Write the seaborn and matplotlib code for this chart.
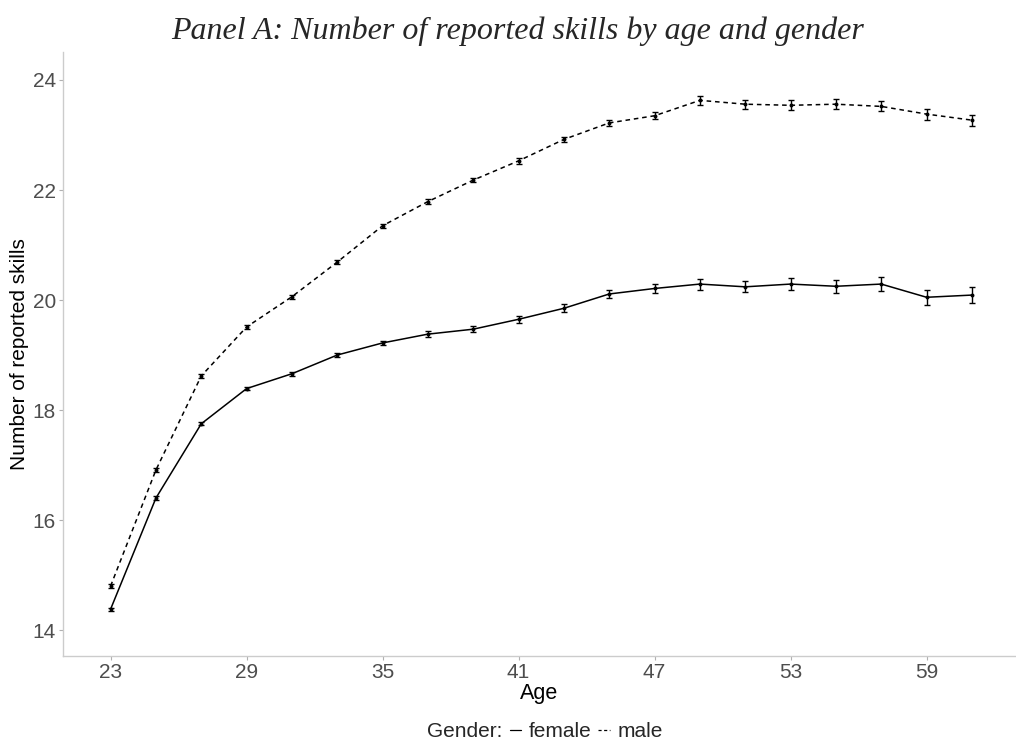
import matplotlib
matplotlib.use("Agg")
import matplotlib.pyplot as plt
from matplotlib.lines import Line2D
import numpy as np
import pandas as pd
import seaborn as sns

# Mean number of reported skills by age (two-year bins) and gender, with standard errors
ages = [23, 25, 27, 29, 31, 33, 35, 37, 39, 41, 43, 45, 47, 49, 51, 53, 55, 57, 59, 61]
female_mean = [14.38, 16.40, 17.75, 18.39, 18.66, 19.00, 19.22, 19.38, 19.47, 19.65,
               19.85, 20.11, 20.21, 20.29, 20.24, 20.29, 20.25, 20.29, 20.05, 20.09]
male_mean = [14.80, 16.91, 18.62, 19.51, 20.06, 20.69, 21.35, 21.79, 22.18, 22.53,
             22.92, 23.22, 23.35, 23.63, 23.56, 23.54, 23.56, 23.52, 23.38, 23.27]
female_se = [0.03, 0.03, 0.03, 0.03, 0.04, 0.04, 0.04, 0.05, 0.05, 0.06,
             0.07, 0.08, 0.09, 0.10, 0.10, 0.11, 0.12, 0.13, 0.14, 0.14]
male_se = [0.03, 0.03, 0.03, 0.03, 0.04, 0.04, 0.04, 0.04, 0.04, 0.05,
           0.05, 0.06, 0.06, 0.08, 0.08, 0.09, 0.09, 0.09, 0.10, 0.10]
x_ticks = [23, 29, 35, 41, 47, 53, 59]
y_ticks = [14, 16, 18, 20, 22, 24]

df = pd.DataFrame({
    "age": ages * 2,
    "skills": female_mean + male_mean,
    "se": female_se + male_se,
    "gender": ["female"] * len(ages) + ["male"] * len(ages),
})

sns.set_theme(style="white")
plt.rcParams["font.family"] = ["Liberation Sans", "DejaVu Sans"]

fig = plt.figure(figsize=(10.16, 7.42), dpi=100)
ax = fig.add_axes([0.062, 0.116, 0.937, 0.814])

dash_map = {"female": "", "male": (3, 2.5)}
sns.lineplot(data=df, x="age", y="skills", style="gender", dashes=dash_map,
             color="black", linewidth=1.1, errorbar=None, legend=False, ax=ax)
sns.scatterplot(data=df, x="age", y="skills", color="black", s=8, linewidth=0,
                legend=False, ax=ax, zorder=4)
for g, sub in df.groupby("gender"):
    ax.errorbar(sub["age"], sub["skills"], yerr=sub["se"], fmt="none",
                ecolor="black", elinewidth=1.0, capsize=2.5, capthick=1.0, zorder=3)

ax.set_xlim(20.9, 62.9)
ax.set_ylim(13.53, 24.51)
ax.set_xticks(x_ticks)
ax.set_yticks(y_ticks)
ax.set_xticklabels([str(v) for v in x_ticks])
ax.set_yticklabels([str(v) for v in y_ticks])
ax.tick_params(axis="both", colors="#b0b0b0", labelcolor="#4d4d4d", labelsize=15,
               length=3, width=0.8, bottom=True, left=True, pad=2)

for side in ["top", "right"]:
    ax.spines[side].set_visible(False)
for side in ["left", "bottom"]:
    ax.spines[side].set_color("#cccccc")
    ax.spines[side].set_linewidth(1.0)

ax.set_xlabel("Age", fontsize=15.5, color="black", labelpad=1)
ax.set_ylabel("Number of reported skills", fontsize=15, color="black", labelpad=3)

fig.text(0.509, 0.958, "Panel A: Number of reported skills by age and gender",
         ha="center", va="center", fontsize=23, style="italic",
         family=["Liberation Serif", "DejaVu Serif"])

handles = [
    Line2D([], [], linestyle="none", marker=None),
    Line2D([], [], color="black", linewidth=0.9),
    Line2D([], [], color="black", linewidth=0.9, dashes=(2.5, 2)),
]
labels = ["Gender:", "female", "male"]
leg = fig.legend(handles, labels, loc="center", bbox_to_anchor=(0.527, 0.014),
                 ncol=3, frameon=False, fontsize=15, handlelength=0.55,
                 handletextpad=0.35, columnspacing=0.35, borderpad=0)

fig.savefig("out.png", dpi=100)
